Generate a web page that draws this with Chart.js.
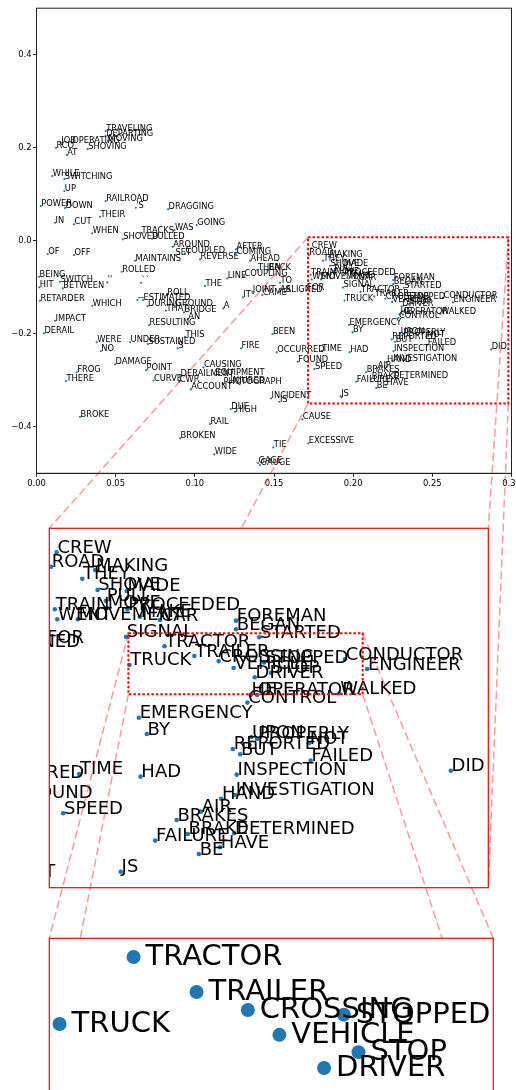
<!DOCTYPE html>
<html>
<head>
<meta charset="utf-8">
<script src="https://cdn.jsdelivr.net/npm/chart.js@4.4.0/dist/chart.umd.min.js"></script>
<style>
  html, body { margin: 0; padding: 0; background: #fff; }
  #wrap { position: relative; width: 516px; height: 1090px; overflow: hidden; }
  #wrap canvas { position: absolute; left: 0; top: 0; }
</style>
</head>
<body>
<div id="wrap">
  <canvas id="mainChart" width="540" height="1090"></canvas>
  <canvas id="zoomChart" width="540" height="1090"></canvas>
  <canvas id="detailChart" width="540" height="1110"></canvas>
</div>
<script>
// word vectors projected to 2-D
var words = [
  'TRAVELING', 'DEPARTING', 'MOVING', 'JOB', 'OPERATING', 'RCO', 'SHOVING', 'AT',
  'WHILE', 'SWITCHING', 'UP', 'RAILROAD', "'S", 'DRAGGING', 'POWER', 'DOWN',
  'THEIR', 'IN', 'CUT', 'WHEN', 'SHOVED', 'TRACKS', 'PULLED', 'GOING',
  'WAS', 'AROUND', 'SET', 'COUPLED', 'REVERSE', 'AFTER', 'COMING', 'AHEAD',
  'THEN', 'BACK', 'OF', 'OFF', 'MAINTAINS', 'ROLLED', 'BEING', 'SWITCH',
  'HIT', 'BETWEEN', "''", '``', 'LINE', 'COUPLING', 'TO', 'THE',
  'ROLL', '--', 'ESTIMATED', 'DURING', 'GROUND', 'THAT', 'A', 'BRIDGE',
  'AN', 'IT', 'JOINT', 'CAME', 'AS', 'ALIGNED', 'FOR', 'RETARDER',
  'WHICH', 'RESULTING', 'IMPACT', 'DERAIL', 'WERE', 'NO', 'UNDER', 'SUSTAINED',
  'THIS', 'S', 'DAMAGE', 'POINT', 'CURVE', 'FROG', 'THERE', 'BROKE',
  'CWR', 'DERAILMENT', 'CAUSING', 'EQUIPMENT', 'ACCOUNT', 'PHOTOGRAPH', 'INJURED', 'BEEN',
  'FIRE', 'OCCURRED', 'FOUND', 'SPEED', 'TIME', 'INCIDENT', 'DUE', 'HIGH',
  'RAIL', 'BROKEN', 'WIDE', 'TIE', 'EXCESSIVE', 'CAUSE', 'GAGE', 'GAUGE',
  'JS', 'DID', 'CREW', 'ROAD', 'MAKING', 'THEY', 'SHOVE', 'MADE',
  'PULL', 'MOVE', 'PROCEEDED', 'TRAIN', 'WENT', 'MOVEMENT', 'MAKE', 'CAR',
  'SIGNAL', 'TRUCK', 'TRACTOR', 'TRAILER', 'CROSSING', 'VEHICLE', 'STOPPED', 'STOP',
  'DRIVER', 'FOREMAN', 'BEGAN', 'STARTED', 'CONDUCTOR', 'ENGINEER', 'WALKED', 'CONTROL',
  'OPERATOR', 'HE', 'EMERGENCY', 'BY', 'HAD', 'REPORTED', 'BUT', 'UPON',
  'PROPERLY', 'NOT', 'FAILED', 'INSPECTION', 'INVESTIGATION', 'HAND', 'AIR', 'BRAKES',
  'BRAKE', 'DETERMINED', 'FAILURE', 'HAVE', 'BE', 'IS'
];
var xValues = [
  0.0437, 0.0437, 0.0452, 0.0153, 0.0222, 0.0123, 0.0323, 0.0191,
  0.0100, 0.0176, 0.0176, 0.0437, 0.0627, 0.0831, 0.0027, 0.0180,
  0.0401, 0.0117, 0.0237, 0.0352, 0.0545, 0.0660, 0.0730, 0.1012,
  0.0871, 0.0860, 0.0875, 0.0938, 0.1033, 0.1260, 0.1260, 0.1349,
  0.1395, 0.1462, 0.0071, 0.0237, 0.0622, 0.0538, 0.0016, 0.0148,
  0.0018, 0.0166, 0.0447, 0.0660, 0.1205, 0.1311, 0.1538, 0.1064,
  0.0822, 0.0638, 0.0673, 0.0701, 0.0875, 0.0818, 0.1180, 0.0932,
  0.0955, 0.1303, 0.1363, 0.1426, 0.1534, 0.1570, 0.1706, 0.0022,
  0.0352, 0.0711, 0.0117, 0.0047, 0.0380, 0.0406, 0.0591, 0.0704,
  0.0938, 0.0892, 0.0496, 0.0692, 0.0739, 0.0254, 0.0186, 0.0275,
  0.0902, 0.0907, 0.1054, 0.1128, 0.0974, 0.1178, 0.1222, 0.1490,
  0.1292, 0.1517, 0.1650, 0.1755, 0.1801, 0.1481, 0.1227, 0.1254,
  0.1096, 0.0907, 0.1123, 0.1496, 0.1717, 0.1679, 0.1399, 0.1412,
  0.1921, 0.2872, 0.1736, 0.1720, 0.1847, 0.1810, 0.1854, 0.1938,
  0.1878, 0.1881, 0.1940, 0.1731, 0.1738, 0.1797, 0.1976, 0.2034,
  0.1936, 0.1946, 0.2047, 0.2133, 0.2203, 0.2246, 0.2334, 0.2354,
  0.2307, 0.2253, 0.2253, 0.2320, 0.2567, 0.2631, 0.2551, 0.2286,
  0.2314, 0.2295, 0.1973, 0.1996, 0.1978, 0.2244, 0.2265, 0.2297,
  0.2314, 0.2463, 0.2468, 0.2255, 0.2250, 0.2210, 0.2152, 0.2082,
  0.2114, 0.2248, 0.2020, 0.2207, 0.2146, 0.1534
];
var yValues = [
  0.2359, 0.2252, 0.2144, 0.2108, 0.2108, 0.2000, 0.1972, 0.1843,
  0.1391, 0.1327, 0.1069, 0.0854, 0.0710, 0.0675, 0.0746, 0.0703,
  0.0516, 0.0387, 0.0353, 0.0159, 0.0030, 0.0172, 0.0043, 0.0338,
  0.0230, -0.0129, -0.0308, -0.0271, -0.0400, -0.0185, -0.0286, -0.0430,
  -0.0630, -0.0630, -0.0286, -0.0308, -0.0430, -0.0667, -0.0774, -0.0882,
  -0.1002, -0.1024, -0.0895, -0.0903, -0.0809, -0.0759, -0.0903, -0.0974,
  -0.1168, -0.1275, -0.1275, -0.1404, -0.1404, -0.1501, -0.1454, -0.1540,
  -0.1684, -0.1217, -0.1097, -0.1168, -0.1097, -0.1105, -0.1064, -0.1290,
  -0.1398, -0.1813, -0.1720, -0.1991, -0.2185, -0.2372, -0.2185, -0.2222,
  -0.2065, -0.2314, -0.2658, -0.2781, -0.3006, -0.2830, -0.3017, -0.3785,
  -0.3032, -0.2910, -0.2723, -0.2888, -0.3196, -0.3082, -0.3060, -0.2006,
  -0.2314, -0.2400, -0.2602, -0.2760, -0.2369, -0.3389, -0.3619, -0.3677,
  -0.3942, -0.4249, -0.4594, -0.4443, -0.4357, -0.3841, -0.4781, -0.4824,
  -0.3341, -0.2337, -0.0166, -0.0309, -0.0342, -0.0428, -0.0540, -0.0550,
  -0.0647, -0.0719, -0.0732, -0.0732, -0.0832, -0.0832, -0.0806, -0.0839,
  -0.1005, -0.1286, -0.1100, -0.1197, -0.1247, -0.1316, -0.1260, -0.1364,
  -0.1408, -0.0845, -0.0931, -0.1010, -0.1229, -0.1326, -0.1567, -0.1660,
  -0.1584, -0.1584, -0.1810, -0.1972, -0.2396, -0.2121, -0.2174, -0.2002,
  -0.2021, -0.2064, -0.2237, -0.2376, -0.2578, -0.2615, -0.2744, -0.2827,
  -0.2966, -0.2959, -0.3032, -0.3098, -0.3165, -0.3462
];

// axis ticks and view limits
var xTicks = [0, 0.05, 0.1, 0.15, 0.2, 0.25, 0.3];
var yTicks = [-0.4, -0.2, 0, 0.2, 0.4];
var mainXRange = [0, 0.3];
var mainYRange = [-0.5, 0.5];
var zoomXRange = [0.1715, 0.298];
var zoomYRange = [-0.35, 0.0073];
var detailXRange = [0.1932, 0.2538];
var detailYRange = [-0.1483, -0.1048];
var detailBoxX = [0.1943, 0.2618];
var detailBoxY = [-0.1577, -0.0971];

var FONT = "'DejaVu Sans', 'Liberation Sans', sans-serif";
var charts = {};

var points = words.map(function (w, i) {
    return { x: xValues[i], y: yValues[i] };
});

// draws the word next to each point
var wordLabels = {
    id: 'wordLabels',
    afterDatasetsDraw: function (chart, args, opts) {
        var ctx = chart.ctx;
        var area = chart.chartArea;
        var meta = chart.getDatasetMeta(0);
        ctx.save();
        if (opts.clip) {
            ctx.beginPath();
            ctx.rect(area.left, area.top, area.right - area.left, area.bottom - area.top);
            ctx.clip();
        }
        ctx.font = opts.size + 'px ' + FONT;
        ctx.fillStyle = '#000';
        ctx.textAlign = 'left';
        ctx.textBaseline = 'alphabetic';
        meta.data.forEach(function (pt, i) {
            ctx.fillText(words[i], pt.x + opts.dx, pt.y + opts.dy);
        });
        ctx.restore();
    }
};

function whiteBack(chart) {
    var a = chart.chartArea;
    chart.ctx.save();
    chart.ctx.fillStyle = '#fff';
    chart.ctx.fillRect(a.left, a.top, a.right - a.left, a.bottom - a.top);
    chart.ctx.restore();
}

function connect(ctx, x0, y0, x1, y1) {
    ctx.beginPath();
    ctx.moveTo(x0, y0);
    ctx.lineTo(x1, y1);
    ctx.stroke();
}

// dotted box around a range plus dashed lines to the panel that shows it
function markInset(chart, xr, yr, target) {
    var ctx = chart.ctx;
    var sx = chart.scales.x, sy = chart.scales.y;
    var l = sx.getPixelForValue(xr[0]), r = sx.getPixelForValue(xr[1]);
    var t = sy.getPixelForValue(yr[1]), b = sy.getPixelForValue(yr[0]);
    ctx.save();
    if (target) {
        var a = target.chartArea;
        ctx.strokeStyle = 'rgba(255, 0, 0, 0.4)';
        ctx.lineWidth = 1.5;
        ctx.setLineDash([8, 4]);
        connect(ctx, l, t, a.left, a.top);
        connect(ctx, r, t, a.right, a.top);
        connect(ctx, l, b, a.left, a.bottom);
        connect(ctx, r, b, a.right, a.bottom);
    }
    ctx.strokeStyle = '#ff0000';
    ctx.lineWidth = 2;
    ctx.setLineDash([2.5, 2]);
    ctx.strokeRect(l, t, r - l, b - t);
    ctx.restore();
}

function frame(chart, color, width) {
    var a = chart.chartArea;
    chart.ctx.save();
    chart.ctx.strokeStyle = color;
    chart.ctx.lineWidth = width;
    chart.ctx.strokeRect(a.left, a.top, a.right - a.left, a.bottom - a.top);
    chart.ctx.restore();
}

function scatterSet(radius) {
    return {
        data: points,
        pointRadius: radius,
        pointBackgroundColor: '#1f77b4',
        pointBorderWidth: 0,
        showLine: false
    };
}

var baseOptions = {
    responsive: false,
    animation: false,
    devicePixelRatio: 1,
    events: []
};

// ---- main scatter ----
charts.main = new Chart(document.getElementById('mainChart'), {
    type: 'scatter',
    data: { datasets: [scatterSet(1.1)] },
    plugins: [wordLabels, {
        id: 'mainDecor',
        afterDraw: function (chart) {
            frame(chart, '#222', 1);
            markInset(chart, zoomXRange, zoomYRange, charts.zoom);
        }
    }],
    options: Object.assign({}, baseOptions, {
        layout: { padding: { left: 0, top: 8.2, right: 28.5, bottom: 590 } },
        plugins: {
            legend: { display: false },
            tooltip: { enabled: false },
            wordLabels: { size: 8.3, dx: 0.5, dy: 0, clip: false }
        },
        scales: {
            x: {
                type: 'linear', min: mainXRange[0], max: mainXRange[1],
                afterBuildTicks: function (s) { s.ticks = xTicks.map(function (v) { return { value: v }; }); },
                afterFit: function (s) { s.height = 26.7; },
                grid: { drawOnChartArea: false, tickLength: 3.5, color: '#222' },
                border: { color: '#222', width: 1 },
                ticks: {
                    autoSkip: false, maxRotation: 0, padding: 2, color: '#000',
                    font: { family: FONT, size: 8.4 },
                    callback: function (v) { return v.toFixed(2); }
                }
            },
            y: {
                type: 'linear', min: mainYRange[0], max: mainYRange[1],
                afterBuildTicks: function (s) { s.ticks = yTicks.map(function (v) { return { value: v }; }); },
                afterFit: function (s) { s.width = 36.5; },
                grid: { drawOnChartArea: false, tickLength: 3.5, color: '#222' },
                border: { color: '#222', width: 1 },
                ticks: {
                    autoSkip: false, padding: 1.5, color: '#000',
                    font: { family: FONT, size: 8.4 },
                    callback: function (v) { return (v < -1e-9 ? '\u2212' : '') + Math.abs(v).toFixed(1); }
                }
            }
        }
    })
});

function panelOptions(xr, yr, padding, labelOpts) {
    return Object.assign({}, baseOptions, {
        layout: { padding: padding },
        plugins: {
            legend: { display: false },
            tooltip: { enabled: false },
            wordLabels: labelOpts
        },
        scales: {
            x: { type: 'linear', min: xr[0], max: xr[1], display: false },
            y: { type: 'linear', min: yr[0], max: yr[1], display: false }
        }
    });
}

// ---- first zoom panel ----
charts.zoom = new Chart(document.getElementById('zoomChart'), {
    type: 'scatter',
    data: { datasets: [scatterSet(2.3)] },
    plugins: [wordLabels, {
        id: 'zoomDecor',
        beforeDraw: whiteBack,
        afterDraw: function (chart) {
            markInset(chart, detailBoxX, detailBoxY, charts.detail);
            frame(chart, '#ff0000', 1.2);
        }
    }],
    options: panelOptions(zoomXRange, zoomYRange,
        { left: 49.3, top: 528.3, right: 51.7, bottom: 202.3 },
        { size: 18, dx: 0.8, dy: 0.5, clip: true })
});

// ---- second zoom panel ----
charts.detail = new Chart(document.getElementById('detailChart'), {
    type: 'scatter',
    data: { datasets: [scatterSet(7)] },
    plugins: [wordLabels, {
        id: 'detailDecor',
        beforeDraw: whiteBack,
        afterDraw: function (chart) { frame(chart, '#ff0000', 1.2); }
    }],
    options: panelOptions(detailXRange, detailYRange,
        { left: 49.3, top: 938.3, right: 46.7, bottom: 15 },
        { size: 29, dx: 12, dy: 8, clip: true })
});

// redraw so the connector lines can reach the panels made after them
charts.main.draw();
charts.zoom.draw();
</script>
</body>
</html>
